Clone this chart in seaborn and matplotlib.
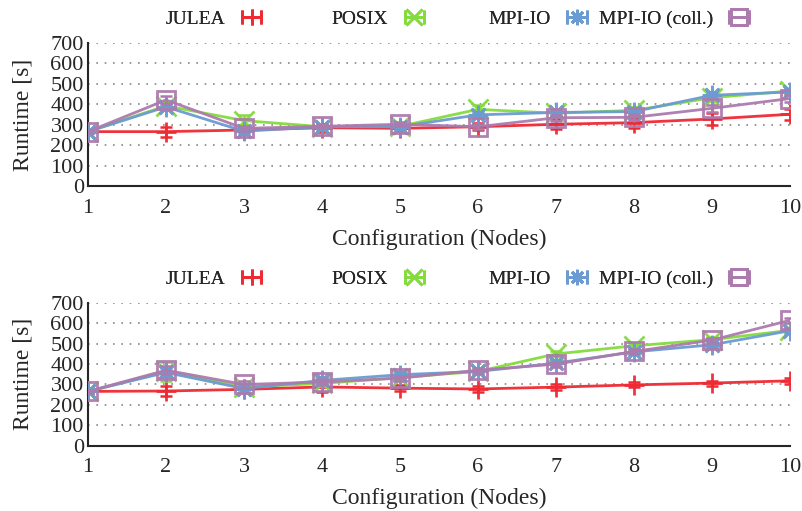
import numpy as np
import pandas as pd
import matplotlib
matplotlib.use("Agg")
import matplotlib.pyplot as plt
from matplotlib.lines import Line2D
from matplotlib.legend_handler import HandlerTuple, HandlerLine2D
from matplotlib.ticker import MultipleLocator
import seaborn as sb

nodes = [1, 2, 3, 4, 5, 6, 7, 8, 9, 10]
methods = ["JULEA", "POSIX", "MPI-IO", "MPI-IO (coll.)"]

# top panel, runtime [s]
top_julea = [266, 266, 274, 285, 282, 290, 302, 310, 328, 351]
top_posix = [266, 392, 320, 290, 292, 375, 356, 370, 432, 465]
top_mpiio = [266, 387, 268, 290, 290, 348, 360, 364, 444, 460]
top_coll = [266, 421, 282, 292, 302, 290, 334, 336, 380, 428]
top_err_julea = [8, 25, 10, 20, 12, 18, 25, 25, 30, 28]
top_err_posix = [8, 20, 25, 10, 10, 20, 15, 18, 15, 15]
top_err_mpiio = [8, 15, 15, 10, 10, 15, 15, 15, 15, 15]
top_err_coll = [8, 20, 12, 10, 10, 12, 15, 15, 18, 18]

# bottom panel, runtime [s]
bot_julea = [266, 268, 276, 288, 282, 278, 287, 298, 307, 318]
bot_posix = [266, 364, 288, 305, 334, 364, 450, 490, 520, 566]
bot_mpiio = [266, 359, 280, 320, 348, 364, 405, 460, 495, 564]
bot_coll = [266, 370, 300, 312, 331, 370, 400, 462, 518, 615]
bot_err_julea = [8, 25, 15, 25, 15, 15, 15, 12, 12, 15]
bot_err_posix = [8, 45, 15, 12, 12, 12, 12, 12, 12, 12]
bot_err_mpiio = [8, 20, 20, 15, 12, 12, 15, 12, 12, 12]
bot_err_coll = [8, 20, 15, 15, 12, 12, 12, 12, 12, 12]

colors = ["#ee2a33", "#84dc3c", "#6b9bd2", "#ad7aad"]
markers = ["+", "x", (8, 2, 0), "s"]


def draw_panel(ax, series, errs, fig, legend_y):
    df = pd.DataFrame({"nodes": nodes * 4,
                       "runtime": sum(series, []),
                       "err": sum(errs, []),
                       "method": sum([[m] * len(nodes) for m in methods], [])})
    for i, m in enumerate(methods):
        sub = df[df["method"] == m]
        c = colors[i]
        ms = 14 if m != "MPI-IO (coll.)" else 13
        sb.lineplot(data=sub, x="nodes", y="runtime", ax=ax, color=c,
                    marker=markers[i], markersize=ms, mec=c, mfc="none",
                    mew=2, lw=2, alpha=0.95, zorder=3 + i)
        ax.errorbar(sub["nodes"], sub["runtime"], yerr=sub["err"], fmt="none",
                    ecolor=c, elinewidth=1.8, capsize=4, capthick=1.8, zorder=3 + i)

    ax.set_xlim(1, 10)
    ax.set_ylim(0, 700)
    ax.set_xticks(nodes)
    ax.yaxis.set_major_locator(MultipleLocator(100))
    ax.yaxis.set_minor_locator(MultipleLocator(20))
    ax.tick_params(axis="both", which="major", direction="in", length=7, width=1.3,
                   labelsize=16, color="#333333")
    ax.tick_params(axis="y", which="minor", direction="in", length=4, width=1.1, color="#333333")
    ax.tick_params(axis="x", pad=9)
    ax.tick_params(axis="y", pad=3)
    for t in ax.get_yticks():
        if t > 0:
            ax.axhline(t, color="#888888", lw=1.2, ls=(0, (1, 4)), zorder=1)
    sb.despine(ax=ax)
    for s in ["left", "bottom"]:
        ax.spines[s].set_linewidth(1.5)
    ax.set_xlabel("Configuration (Nodes)", fontsize=17, labelpad=8)
    ax.set_ylabel("Runtime [s]", fontsize=17, labelpad=12)

    # legend, one entry at a time (gnuplot style: text then bar)
    right_ends = [0.333, 0.536, 0.739, 0.941]
    for i, m in enumerate(methods):
        cap = Line2D([], [], color=colors[i], lw=2, marker="|", markersize=10, mew=2)
        mk = Line2D([], [], color=colors[i], lw=0, marker=markers[i], markersize=11,
                    mfc="none", mew=2)
        leg = fig.legend([(cap, mk)], [m], loc="center right",
                         bbox_to_anchor=(right_ends[i], legend_y),
                         bbox_transform=fig.transFigure, frameon=False,
                         markerfirst=False, numpoints=1, fontsize=14,
                         handlelength=1.6, handletextpad=0.55, borderpad=0, borderaxespad=0,
                         handler_map={tuple: HandlerTuple(ndivide=1, pad=0),
                                      cap: HandlerLine2D(numpoints=2)})
        fig.add_artist(leg)


def main():
    sb.set_style("white")
    plt.rcParams["font.family"] = ["Liberation Serif", "DejaVu Serif"]
    plt.rcParams["mathtext.fontset"] = "dejavuserif"

    fig = plt.figure(figsize=(8.02, 5.11), dpi=100)
    ax1 = fig.add_axes([0.1097, 0.636, 0.8753, 0.280])
    ax2 = fig.add_axes([0.1097, 0.128, 0.8753, 0.279])

    draw_panel(ax1, [top_julea, top_posix, top_mpiio, top_coll],
               [top_err_julea, top_err_posix, top_err_mpiio, top_err_coll], fig, 0.962)
    draw_panel(ax2, [bot_julea, bot_posix, bot_mpiio, bot_coll],
               [bot_err_julea, bot_err_posix, bot_err_mpiio, bot_err_coll], fig, 0.454)

    fig.savefig("out.png", dpi=100)
    plt.close(fig)


if __name__ == "__main__":
    main()
